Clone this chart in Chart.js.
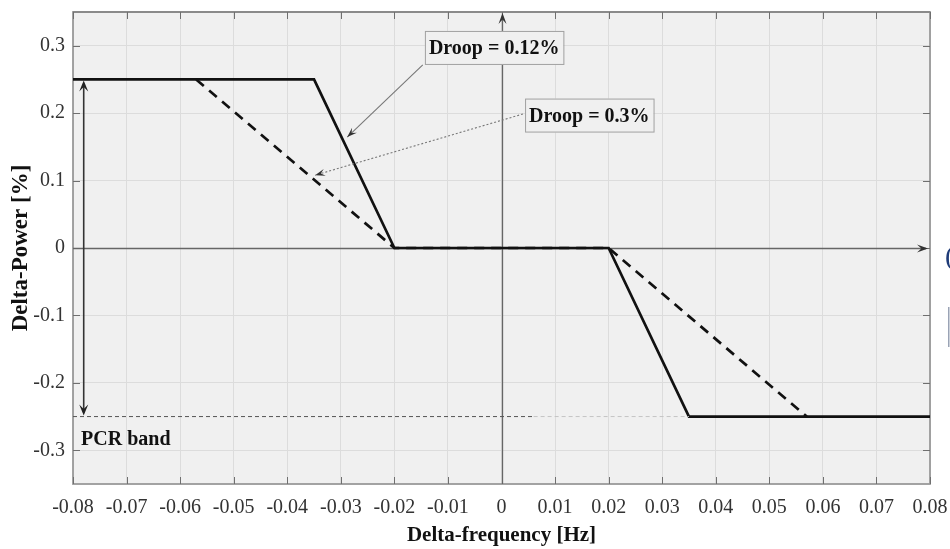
<!DOCTYPE html>
<html><head><meta charset="utf-8">
<script src="https://cdn.jsdelivr.net/npm/chart.js@4.4.0/dist/chart.umd.min.js"></script>
<style>html,body{margin:0;padding:0;background:#fff;}#wrap{width:950px;height:549px;position:relative;}</style>
</head><body><div id="wrap"><canvas id="c" width="950" height="549"></canvas></div>
<script>
// ---- data ----
const xTicks = [-0.08,-0.07,-0.06,-0.05,-0.04,-0.03,-0.02,-0.01,0,0.01,0.02,0.03,0.04,0.05,0.06,0.07,0.08];
const yTicks = [-0.3,-0.2,-0.1,0,0.1,0.2,0.3];
const freqSolid = [-0.08,-0.035,-0.02,0.02,0.035,0.08];
const powerSolid = [0.25,0.25,0,0,-0.25,-0.25];
const freqDashed = [-0.057,-0.02,0.02,0.057];
const powerDashed = [0.25,0,0,-0.25];
const pcrFreqDark = [-0.08,0.006];
const pcrFreqFaint = [0.006,0.035];
const pcrLevel = -0.25;
const bandArrowFreq = -0.078;
const bandLimits = [0.25,-0.25];
const bandLabel = 'PCR band';
const bandLabelAt = [-0.0785,-0.2845];
const annTexts = ['Droop = 0.12%','Droop = 0.3%'];
const annBoxAt = [[-0.0143,0.2967],[0.0044,0.1964]];     // left edge, vertical centre
const annArrowFrom = [[-0.0147,0.2715],[0.0040,0.1987]];
const annArrowTo = [[-0.0288,0.1645],[-0.0348,0.108]];
const annArrowDash = [[],[2,2]];

const pts = (xs,ys)=>xs.map((x,i)=>({x:x,y:Array.isArray(ys)?ys[i]:ys}));
const SERIF = '"Liberation Serif","Times New Roman",serif';

function arrowHead(ctx,x1,y1,x2,y2,len,half,color){
  const a=Math.atan2(y2-y1,x2-x1);
  ctx.save();ctx.fillStyle=color;ctx.beginPath();
  ctx.moveTo(x2,y2);
  ctx.lineTo(x2-len*Math.cos(a)+half*Math.sin(a), y2-len*Math.sin(a)-half*Math.cos(a));
  ctx.lineTo(x2-len*0.6*Math.cos(a), y2-len*0.6*Math.sin(a));
  ctx.lineTo(x2-len*Math.cos(a)-half*Math.sin(a), y2-len*Math.sin(a)+half*Math.cos(a));
  ctx.closePath();ctx.fill();ctx.restore();
}

const deco = {
  id:'deco',
  beforeDraw(chart){
    const {ctx,chartArea:a}=chart;
    ctx.save();ctx.fillStyle='#f0f0f0';
    ctx.fillRect(a.left,a.top,a.right-a.left,a.bottom-a.top);ctx.restore();
  },
  beforeDatasetsDraw(chart){
    const {ctx,chartArea:a,scales:{x,y}}=chart;
    ctx.save();
    // frame
    ctx.strokeStyle='#9a9a9a';ctx.lineWidth=1.8;
    ctx.strokeRect(a.left,a.top,a.right-a.left,a.bottom-a.top);
    ctx.strokeStyle='#8a8a8a';ctx.lineWidth=2.2;ctx.beginPath();
    ctx.moveTo(a.left,a.top);ctx.lineTo(a.right,a.top);ctx.stroke();
    // inward tick marks
    ctx.strokeStyle='#6f6f6f';ctx.lineWidth=1;ctx.beginPath();
    xTicks.forEach(v=>{const px=Math.round(x.getPixelForValue(v))+0.5;
      ctx.moveTo(px,a.bottom);ctx.lineTo(px,a.bottom-7);
      ctx.moveTo(px,a.top);ctx.lineTo(px,a.top+7);});
    yTicks.forEach(v=>{const py=Math.round(y.getPixelForValue(v))+0.5;
      ctx.moveTo(a.left,py);ctx.lineTo(a.left+7,py);
      ctx.moveTo(a.right,py);ctx.lineTo(a.right-7,py);});
    ctx.stroke();
    // axes through origin
    const x0=Math.round(x.getPixelForValue(0))+0.5, y0=Math.round(y.getPixelForValue(0))+0.5;
    ctx.strokeStyle='#666';ctx.lineWidth=1.3;ctx.beginPath();
    ctx.moveTo(x0,a.bottom);ctx.lineTo(x0,a.top+4);
    ctx.moveTo(a.left,y0);ctx.lineTo(a.right-4,y0);ctx.stroke();
    arrowHead(ctx,x0,a.bottom,x0,a.top+1,11,4,'#333');
    arrowHead(ctx,a.left,y0,a.right-2,y0,11,4,'#333');
    ctx.restore();
  },
  afterDatasetsDraw(chart){
    const {ctx,scales:{x,y}}=chart;
    ctx.save();
    // band double arrow
    const bx=x.getPixelForValue(bandArrowFreq);
    const bt=y.getPixelForValue(bandLimits[0]), bb=y.getPixelForValue(bandLimits[1]);
    ctx.strokeStyle='#333';ctx.lineWidth=1.6;ctx.beginPath();
    ctx.moveTo(bx,bt+4);ctx.lineTo(bx,bb-4);ctx.stroke();
    arrowHead(ctx,bx,bb,bx,bt+1,11,4.5,'#222');
    arrowHead(ctx,bx,bt,bx,bb-1,11,4.5,'#222');
    // band label
    ctx.font='bold 20px '+SERIF;ctx.fillStyle='#111';ctx.textBaseline='middle';ctx.textAlign='left';
    ctx.fillText(bandLabel,x.getPixelForValue(bandLabelAt[0]),y.getPixelForValue(bandLabelAt[1]));
    // annotations
    annTexts.forEach((t,i)=>{
      const fx=x.getPixelForValue(annArrowFrom[i][0]), fy=y.getPixelForValue(annArrowFrom[i][1]);
      const tx=x.getPixelForValue(annArrowTo[i][0]), ty=y.getPixelForValue(annArrowTo[i][1]);
      ctx.strokeStyle='#777';ctx.lineWidth=1.1;ctx.setLineDash(annArrowDash[i]);
      ctx.beginPath();ctx.moveTo(fx,fy);ctx.lineTo(tx,ty);ctx.stroke();ctx.setLineDash([]);
      arrowHead(ctx,fx,fy,tx,ty,10,3.5,'#333');
      const lx=x.getPixelForValue(annBoxAt[i][0]), cy=y.getPixelForValue(annBoxAt[i][1]);
      ctx.font='bold 20px '+SERIF;
      const w=ctx.measureText(t).width+8;
      ctx.fillStyle='#f0f0f0';ctx.fillRect(lx,cy-17,w,34);
      ctx.strokeStyle='#a0a0a0';ctx.lineWidth=1;ctx.strokeRect(lx+0.5,cy-16.5,w,33);
      ctx.fillStyle='#111';ctx.textAlign='left';ctx.textBaseline='middle';
      ctx.fillText(t,lx+4,cy+1);
    });
    ctx.restore();
  },
  afterDraw(chart){
    const ctx=chart.ctx;ctx.save();
    ctx.fillStyle='#1f3b78';ctx.font='28px '+SERIF;ctx.textBaseline='middle';ctx.textAlign='left';
    ctx.fillText('(',945,258);
    ctx.fillStyle='#9aa3b5';ctx.fillRect(948,307,1.5,40);
    ctx.restore();
  }
};

new Chart(document.getElementById('c'),{
  type:'scatter',
  data:{datasets:[
    {label:'PCR band',data:pts(pcrFreqDark,pcrLevel),showLine:true,borderColor:'#555',borderWidth:1,borderDash:[4,3],pointRadius:0},
    {label:'PCR band faint',data:pts(pcrFreqFaint,pcrLevel),showLine:true,borderColor:'#c4c4c4',borderWidth:1,borderDash:[4,3],pointRadius:0},
    {label:'Droop = 0.3%',data:pts(freqDashed,powerDashed),showLine:true,borderColor:'#111',borderWidth:2.7,borderDash:[10,7],pointRadius:0},
    {label:'Droop = 0.12%',data:pts(freqSolid,powerSolid),showLine:true,borderColor:'#111',borderWidth:2.7,pointRadius:0}
  ]},
  options:{
    responsive:false,animation:false,
    layout:{padding:{top:12,right:20,left:0,bottom:0}},
    plugins:{legend:{display:false},tooltip:{enabled:false}},
    scales:{
      x:{type:'linear',min:-0.08,max:0.08,
        afterBuildTicks:s=>{s.ticks=xTicks.map(v=>({value:v}));},
        afterFit:s=>{s.height=65;s.paddingLeft=0;s.paddingRight=0;},
        grid:{color:'#dcdcdc',lineWidth:1,drawTicks:false},border:{display:false},
        ticks:{padding:12,color:'#333',font:{family:SERIF,size:20},maxRotation:0,autoSkip:false,
          callback:v=>Math.abs(v)<1e-9?'0':v.toFixed(2)},
        title:{display:true,text:'Delta-frequency [Hz]',color:'#111',font:{family:SERIF,size:21,weight:'bold',lineHeight:1.2},padding:{top:0,bottom:1}}
      },
      y:{type:'linear',min:-0.35,max:0.35,
        afterBuildTicks:s=>{s.ticks=yTicks.map(v=>({value:v}));},
        afterFit:s=>{s.width=73;s.paddingTop=0;s.paddingBottom=0;},
        grid:{color:'#dcdcdc',lineWidth:1,drawTicks:false},border:{display:false},
        ticks:{padding:8,color:'#333',font:{family:SERIF,size:20},
          callback:v=>Math.abs(v)<1e-9?'0':v.toFixed(1)},
        title:{display:true,text:'Delta-Power [%]',color:'#111',font:{family:SERIF,size:23,weight:'bold',lineHeight:1.2},padding:{top:7,bottom:0}}
      }
    }
  },
  plugins:[deco]
});
</script></body></html>
